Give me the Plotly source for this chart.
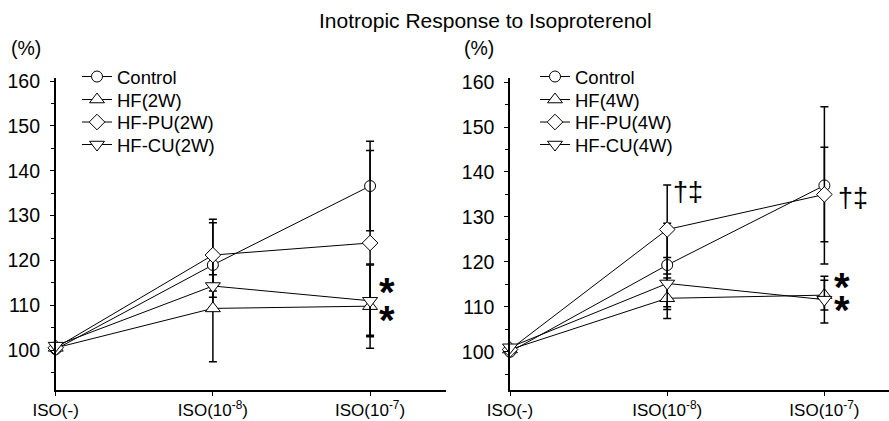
import plotly.graph_objects as go

# ---------------- data ----------------
doses = [0, 1, 2]
dose_labels = ["ISO(-)", "ISO(10<sup>-8</sup>)", "ISO(10<sup>-7</sup>)"]
y_ticks = [100, 110, 120, 130, 140, 150, 160]

groups_2w = ["Control", "HF(2W)", "HF-PU(2W)", "HF-CU(2W)"]
groups_4w = ["Control", "HF(4W)", "HF-PU(4W)", "HF-CU(4W)"]

# 2-week panel (mean, SD)
control_2w = [100.2, 119.0, 136.6]
control_2w_sd = [None, 9.4, 10.0]
hf_2w = [100.5, 109.3, 109.8]
hf_2w_sd = [None, 11.9, 9.4]
pu_2w = [100.5, 121.2, 123.9]
pu_2w_sd = [None, 8.0, 20.6]
cu_2w = [101.0, 114.3, 111.0]
cu_2w_sd = [None, 2.5, 8.0]

# 4-week panel (mean, SD)
control_4w = [100.0, 119.3, 137.0]
control_4w_sd = [None, 9.3, 17.5]
hf_4w = [100.5, 111.9, 112.6]
hf_4w_sd = [None, 4.5, 3.3]
pu_4w = [100.5, 127.2, 135.0]
pu_4w_sd = [None, 9.9, 10.5]
cu_4w = [101.0, 115.2, 111.6]
cu_4w_sd = [None, 5.8, 5.2]

# significance marks: (panel, x, y, text)
marks = [
    ("x", "y", 2.11, 114.0, "*"),
    ("x", "y", 2.11, 107.8, "*"),
    ("x2", "y2", 2.11, 115.5, "*"),
    ("x2", "y2", 2.11, 110.4, "*"),
    ("x2", "y2", 1.13, 135.5, "†‡"),
    ("x2", "y2", 2.18, 134.2, "†‡"),
]

title_text = "Inotropic Response to Isoproterenol"
unit_text = "(%)"

# ---------------- figure ----------------
W, H = 889, 421
FONT = "Liberation Sans, Arial, sans-serif"

symbols = ["circle", "triangle-up", "diamond", "triangle-down"]
sizes = [11, 13, 12, 13]
legend_rows_px = [77, 100, 122.5, 145]   # vertical centre of each legend entry
legend_left_px = [77, 535]               # left edge of each panel's legend

def px_x(p):
    return p / W

def px_y(p):
    return 1 - p / H

fig = go.Figure()

panels = [
    ("x", "y", groups_2w,
     [control_2w, hf_2w, pu_2w, cu_2w],
     [control_2w_sd, hf_2w_sd, pu_2w_sd, cu_2w_sd]),
    ("x2", "y2", groups_4w,
     [control_4w, hf_4w, pu_4w, cu_4w],
     [control_4w_sd, hf_4w_sd, pu_4w_sd, cu_4w_sd]),
]

legend_layout = {}
k = 0
for p, (xa, ya, names, vals, sds) in enumerate(panels):
    for i, (name, v, sd, sym, sz) in enumerate(zip(names, vals, sds, symbols, sizes)):
        k += 1
        lg = "legend" if k == 1 else f"legend{k}"
        fig.add_trace(go.Scatter(
            x=doses, y=v, name=name, xaxis=xa, yaxis=ya, legend=lg,
            mode="lines+markers",
            line=dict(color="black", width=1),
            marker=dict(symbol=sym, size=sz, color="white",
                        line=dict(color="black", width=1)),
            error_y=dict(type="data", array=sd, visible=True,
                         color="black", thickness=1.5, width=4),
            cliponaxis=False,
        ))
        legend_layout[lg] = dict(
            x=px_x(legend_left_px[p]), y=px_y(legend_rows_px[i]),
            xanchor="left", yanchor="middle",
            bgcolor="rgba(0,0,0,0)", borderwidth=0,
            font=dict(family=FONT, size=18.5, color="black"),
        )

y_dom = [px_y(390), px_y(78)]

common_x = dict(
    tickmode="array", tickvals=doses, ticktext=dose_labels,
    showline=True, linecolor="black", linewidth=1.5,
    ticks="outside", ticklen=4, tickcolor="black", tickwidth=1,
    showgrid=False, zeroline=False, automargin=False,
    tickfont=dict(family=FONT, size=17, color="black"),
    ticklabelstandoff=0,
)
common_y = dict(
    tickmode="array", tickvals=y_ticks,
    showline=True, linecolor="black", linewidth=1.5,
    ticks="outside", ticklen=4, tickcolor="black", tickwidth=1,
    minor=dict(dtick=5, ticks="outside", ticklen=3, tickcolor="black"),
    showgrid=False, zeroline=False, automargin=False,
    tickfont=dict(family=FONT, size=19.5, color="black"),
    ticklabelstandoff=6,
)

fig.update_layout(
    width=W, height=H,
    margin=dict(l=0, r=0, t=0, b=0, autoexpand=False),
    paper_bgcolor="white", plot_bgcolor="white",
    font=dict(family=FONT, color="black"),
    xaxis=dict(domain=[px_x(55.7), px_x(446)], range=[0, 2.483],
               anchor="y", **common_x),
    yaxis=dict(domain=y_dom, range=[91.1, 160.7], anchor="x", **common_y),
    xaxis2=dict(domain=[px_x(510), 1.0], range=[0, 2.411],
                anchor="y2", **common_x),
    yaxis2=dict(domain=y_dom, range=[91.5, 160.9], anchor="x2", **common_y),
    showlegend=True,
    **legend_layout,
)

annotations = [
    dict(text=title_text, x=px_x(485.5), y=px_y(21), xref="paper", yref="paper",
         xanchor="center", yanchor="middle", showarrow=False,
         font=dict(family=FONT, size=21, color="black")),
    dict(text=unit_text, x=px_x(9), y=px_y(48), xref="paper", yref="paper",
         xanchor="left", yanchor="middle", showarrow=False,
         font=dict(family=FONT, size=19.5, color="black")),
    dict(text=unit_text, x=px_x(462), y=px_y(48), xref="paper", yref="paper",
         xanchor="left", yanchor="middle", showarrow=False,
         font=dict(family=FONT, size=19.5, color="black")),
]
for xa, ya, mx, my, t in marks:
    star = t == "*"
    annotations.append(dict(
        text=f"<b>{t}</b>" if star else t, x=mx, y=my, xref=xa, yref=ya,
        xanchor="center", yanchor="middle", showarrow=False,
        yshift=-5 if star else 0,
        font=dict(family=FONT, size=40 if star else 27, color="black"),
    ))
fig.update_layout(annotations=annotations)

fig.write_html(
    "out.html",
    config={"displayModeBar": False},
    post_script="document.body.style.margin='0';"
                "document.documentElement.style.margin='0';"
                "document.body.style.overflow='hidden';",
)
